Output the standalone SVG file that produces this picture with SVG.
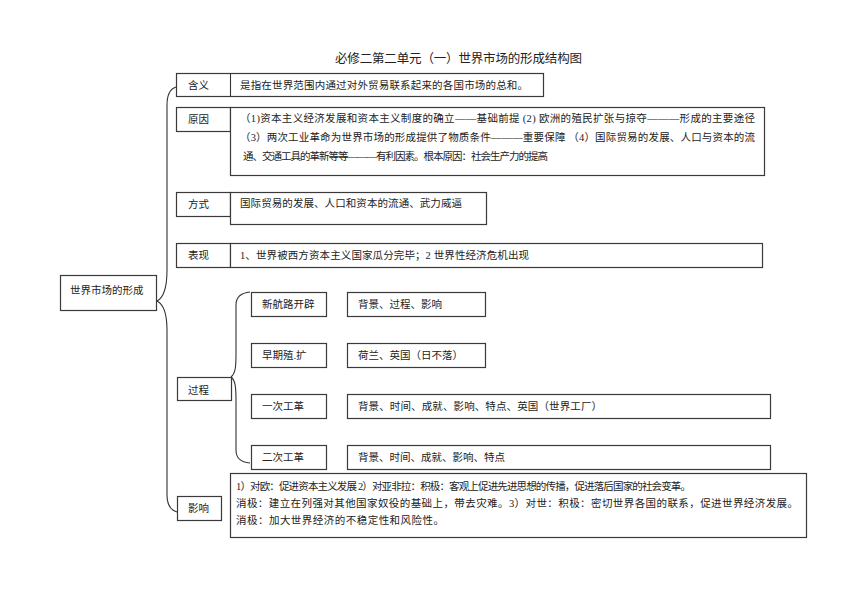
<svg xmlns="http://www.w3.org/2000/svg" width="860" height="609" viewBox="0 0 860 609">
<style>
.b{fill:#fff;stroke:#3a3a3a;stroke-width:1.2}
.t{font-family:"Liberation Serif","Noto Sans CJK SC",serif;font-size:10.5px;fill:#222}
.ti{font-family:"Liberation Serif","Noto Sans CJK SC",serif;font-size:12.5px;fill:#222}
.c{fill:none;stroke:#333;stroke-width:1.1}
</style>
<rect width="860" height="609" fill="#fff"/>
<text class="ti" x="335" y="63" textLength="247" lengthAdjust="spacing">必修二第二单元（一）世界市场的形成结构图</text>
<g id="connectors">
<path class="c" d="M157,301 C163,298 167,290 167,270 L167,105 C167,94 170,89 176,87"/>
<path class="c" d="M157,301 C163,304 167,312 167,330 L167,495 C167,505 170,510 177,512"/>
<path class="c" d="M231,377 C235,374 236,368 236,355 L236,305 C236,298 240,293 250,292"/>
<path class="c" d="M231,377 C235,380 236,386 236,400 L236,450 C236,458 240,462 250,463"/>
</g>
<g id="root"><rect class="b" x="60.5" y="275.5" width="96" height="35"/><text class="t" x="70" y="294">世界市场的形成</text></g>
<g id="hanyi"><rect class="b" x="176.5" y="73.5" width="367" height="23"/><line class="c" x1="230.5" y1="73.5" x2="230.5" y2="96.5"/><text class="t" x="188" y="89">含义</text><text class="t" x="240" y="89" textLength="288" lengthAdjust="spacing">是指在世界范围内通过对外贸易联系起来的各国市场的总和。</text></g>
<g id="yuanyin"><rect class="b" x="176.5" y="107.5" width="54" height="24"/><rect class="b" x="230.5" y="107.5" width="534" height="68"/><text class="t" x="188" y="123">原因</text>
<text class="t" x="240" y="122" textLength="515" lengthAdjust="spacing">（1)资本主义经济发展和资本主义制度的确立——基础前提 (2) 欧洲的殖民扩张与掠夺———形成的主要途径</text>
<text class="t" x="240" y="141" textLength="515" lengthAdjust="spacing">（3）两次工业革命为世界市场的形成提供了物质条件———重要保障 （4）国际贸易的发展、人口与资本的流</text>
<text class="t" x="243" y="160" textLength="305" lengthAdjust="spacing">通、交通工具的革新等等———有利因素。根本原因：社会生产力的提高</text></g>
<g id="fangshi"><rect class="b" x="176.5" y="192.5" width="54" height="24"/><rect class="b" x="230.5" y="192.5" width="256" height="32"/><text class="t" x="188" y="208">方式</text><text class="t" x="240" y="207" textLength="222" lengthAdjust="spacing">国际贸易的发展、人口和资本的流通、武力威逼</text></g>
<g id="biaoxian"><rect class="b" x="176.5" y="243.5" width="54" height="24"/><rect class="b" x="230.5" y="243.5" width="532" height="24"/><text class="t" x="188" y="259">表现</text><text class="t" x="240" y="259" textLength="289" lengthAdjust="spacing">1、世界被西方资本主义国家瓜分完毕；2 世界性经济危机出现</text></g>
<g id="guocheng"><rect class="b" x="177.5" y="377.5" width="54" height="23"/><text class="t" x="188" y="394">过程</text></g>
<g id="xinhanglu"><rect class="b" x="251.5" y="292.5" width="75" height="24"/><text class="t" x="262" y="308">新航路开辟</text></g>
<g id="xinhanglu-c"><rect class="b" x="347.5" y="292.5" width="138" height="24"/><text class="t" x="358" y="308">背景、过程、影响</text></g>
<g id="zaoqi"><rect class="b" x="251.5" y="343.5" width="75" height="24"/><text class="t" x="262" y="359">早期殖.扩</text></g>
<g id="zaoqi-c"><rect class="b" x="347.5" y="343.5" width="138" height="24"/><text class="t" x="358" y="359">荷兰、英国（日不落）</text></g>
<g id="yici"><rect class="b" x="251.5" y="394.5" width="75" height="24"/><text class="t" x="262" y="410">一次工革</text></g>
<g id="yici-c"><rect class="b" x="347.5" y="394.5" width="423" height="24"/><text class="t" x="358" y="410" textLength="244" lengthAdjust="spacing">背景、时间、成就、影响、特点、英国（世界工厂）</text></g>
<g id="erci"><rect class="b" x="251.5" y="445.5" width="75" height="24"/><text class="t" x="262" y="461">二次工革</text></g>
<g id="erci-c"><rect class="b" x="347.5" y="445.5" width="423" height="24"/><text class="t" x="358" y="461">背景、时间、成就、影响、特点</text></g>
<g id="yingxiang"><rect class="b" x="177.5" y="496.5" width="44" height="24"/><text class="t" x="188" y="512">影响</text></g>
<g id="yingxiang-c"><rect class="b" x="230.5" y="473.5" width="576" height="64"/>
<text class="t" x="236" y="490" textLength="455" lengthAdjust="spacing">1）对欧：促进资本主义发展 2）对亚非拉：积极：客观上促进先进思想的传播，促进落后国家的社会变革。</text>
<text class="t" x="236" y="507" textLength="562" lengthAdjust="spacing">消极：建立在列强对其他国家奴役的基础上，带去灾难。3）对世：积极：密切世界各国的联系，促进世界经济发展。</text>
<text class="t" x="236" y="524" textLength="208" lengthAdjust="spacing">消极：加大世界经济的不稳定性和风险性。</text></g>
</svg>
